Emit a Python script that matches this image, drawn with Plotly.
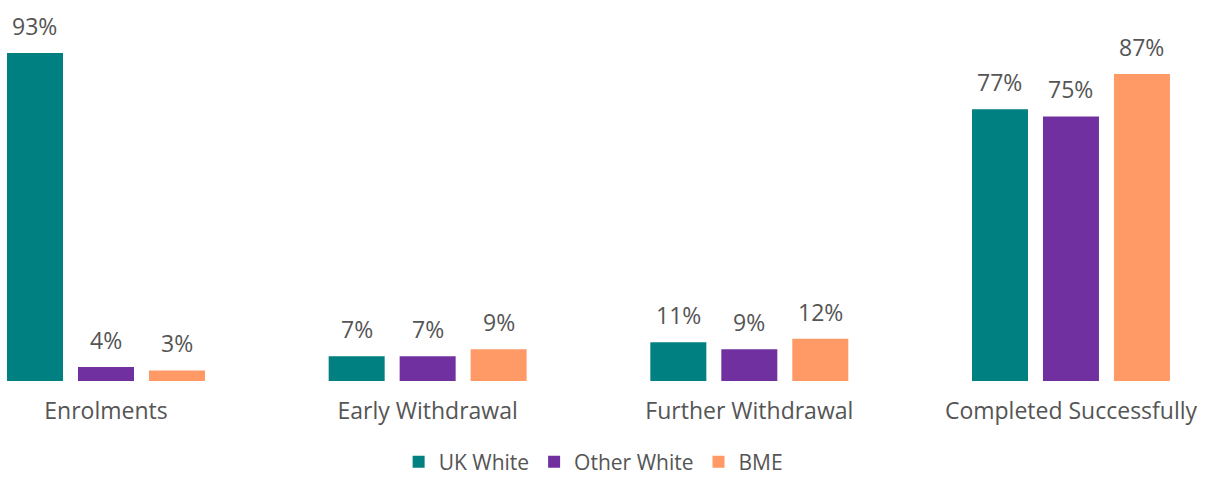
import plotly.graph_objects as go

categories = ["Enrolments", "Early Withdrawal", "Further Withdrawal", "Completed Successfully"]
series_names = ["UK White", "Other White", "BME"]
uk_white = [93, 7, 11, 77]
other_white = [4, 7, 9, 75]
bme = [3, 9, 12, 87]
colors = ["#008080", "#7030A0", "#FF9966"]

FONT = "Open Sans"
TXT = "#555555"
FS = 23

fig = go.Figure()
all_series = [uk_white, other_white, bme]
for name, vals, col in zip(series_names, all_series, colors):
    fig.add_trace(go.Bar(
        x=categories, y=vals, name=name,
        marker=dict(color=col, line=dict(width=0)),
    ))

annotations = []
offsets = [-71, 0, 71]
for vals, off in zip(all_series, offsets):
    for c, v in zip(categories, vals):
        annotations.append(dict(
            x=c, y=v, xref="x", yref="y", text=f"{v}%", showarrow=False,
            xshift=off, yshift=27, yanchor="middle",
            font=dict(family=FONT, size=FS, color=TXT),
        ))

fig.update_layout(
    width=1208, height=477,
    margin=dict(l=0, r=0, t=0, b=96, autoexpand=False),
    paper_bgcolor="white", plot_bgcolor="white",
    barmode="group", bargap=0.338, bargroupgap=0.211,
    font=dict(family=FONT, size=FS, color=TXT),
    xaxis=dict(range=[-0.3295, 3.426], showgrid=False, zeroline=False,
               showline=False, ticks="outside", ticklen=9, tickcolor="rgba(0,0,0,0)",
               tickfont=dict(family=FONT, size=FS, color=TXT)),
    yaxis=dict(range=[0, 108], visible=False),
    legend=dict(orientation="h", xref="paper", yref="paper",
                x=0.491, y=-0.2126, xanchor="center", yanchor="middle",
                itemwidth=30, tracegroupgap=0,
                font=dict(family=FONT, size=21, color=TXT)),
    annotations=annotations,
)

fig.write_html("out.html")
